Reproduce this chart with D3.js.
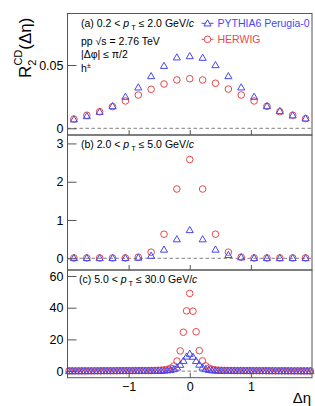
<!DOCTYPE html>
<html>
<head>
<meta charset="utf-8">
<script src="https://cdn.jsdelivr.net/npm/d3@7"></script>
<style>
  body { margin: 0; background: #fff; }
  svg { font-family: "Liberation Sans", Arial, sans-serif; }
</style>
</head>
<body>
<svg id="chart" width="315" height="406"></svg>
<script>
// bin centres, delta-eta
const etaAB = [-1.895, -1.684, -1.474, -1.263, -1.053, -0.842, -0.632, -0.421, -0.211, 0,
  0.211, 0.421, 0.632, 0.842, 1.053, 1.263, 1.474, 1.684, 1.895]

const etaC = [-1.974, -1.922, -1.870, -1.818, -1.766, -1.714, -1.662, -1.610, -1.558, -1.506,
  -1.455, -1.403, -1.351, -1.299, -1.247, -1.195, -1.143, -1.091, -1.039, -0.987,
  -0.935, -0.883, -0.831, -0.779, -0.727, -0.675, -0.623, -0.571, -0.519, -0.468,
  -0.416, -0.364, -0.312, -0.260, -0.208, -0.156, -0.104, -0.052, 0,
  0.052, 0.104, 0.156, 0.208, 0.260, 0.312, 0.364, 0.416, 0.468, 0.519,
  0.571, 0.623, 0.675, 0.727, 0.779, 0.831, 0.883, 0.935, 0.987, 1.039,
  1.091, 1.143, 1.195, 1.247, 1.299, 1.351, 1.403, 1.455, 1.506, 1.558,
  1.610, 1.662, 1.714, 1.766, 1.818, 1.870, 1.922, 1.974]

// panel (a) 0.2 < pT < 2.0
const pythiaA = [0.0071, 0.0097, 0.0131, 0.0176, 0.0250, 0.0324, 0.0413, 0.0494, 0.0561, 0.0571,
  0.0558, 0.0500, 0.0413, 0.0324, 0.0250, 0.0176, 0.0137, 0.0103, 0.0079]
const herwigA = [0.0073, 0.0103, 0.0131, 0.0171, 0.0216, 0.0263, 0.0308, 0.0350, 0.0382, 0.0392,
  0.0382, 0.0356, 0.0310, 0.0263, 0.0216, 0.0174, 0.0131, 0.0103, 0.0076]

// panel (b) 2.0 < pT < 5.0
const pythiaB = [0.01, 0.01, 0.01, 0.01, 0.01, 0.02, 0.07, 0.23, 0.50, 0.74,
  0.50, 0.23, 0.09, 0.03, 0.01, 0.01, 0.01, 0.01, 0.01]
const herwigB = [0.01, 0.01, 0.01, 0.01, 0.01, 0.03, 0.16, 0.63, 1.81, 2.58,
  1.81, 0.63, 0.16, 0.03, 0.01, 0.01, 0.01, 0.01, 0.01]

// panel (c) 5.0 < pT < 30.0
const pythiaC = [0.05, 0.06, 0.06, 0.07, 0.07, 0.08, 0.08, 0.09, 0.09, 0.1,
  0.1, 0.11, 0.11, 0.12, 0.12, 0.13, 0.14, 0.15, 0.16, 0.17,
  0.18, 0.19, 0.2, 0.21, 0.22, 0.23, 0.24, 0.26, 0.28, 0.32,
  0.4, 0.55, 0.8, 1.3, 2.3, 4.0, 6.5, 9.2, 11,
  9.1, 6.4, 4.1, 2.3, 1.3, 0.8, 0.55, 0.4, 0.32, 0.28,
  0.26, 0.24, 0.23, 0.22, 0.21, 0.2, 0.19, 0.18, 0.17, 0.16,
  0.15, 0.14, 0.13, 0.12, 0.12, 0.11, 0.11, 0.1, 0.1, 0.09,
  0.09, 0.08, 0.08, 0.07, 0.07, 0.06, 0.06, 0.05]
const herwigC = [0.09, 0.1, 0.1, 0.11, 0.12, 0.12, 0.13, 0.14, 0.15, 0.15,
  0.16, 0.17, 0.18, 0.19, 0.2, 0.21, 0.22, 0.23, 0.24, 0.25,
  0.26, 0.27, 0.28, 0.29, 0.3, 0.32, 0.35, 0.4, 0.45, 0.55,
  0.75, 1.1, 1.8, 3.2, 6.3, 12.7, 24.5, 38, 49,
  37.8, 24.8, 12.9, 6.4, 3.3, 1.9, 1.1, 0.75, 0.55, 0.45,
  0.4, 0.35, 0.32, 0.3, 0.29, 0.28, 0.27, 0.26, 0.25, 0.24,
  0.23, 0.22, 0.21, 0.2, 0.19, 0.18, 0.17, 0.16, 0.15, 0.15,
  0.14, 0.13, 0.12, 0.12, 0.11, 0.1, 0.1, 0.09]

const ticksA = [0, 0.05]
const ticksB = [0, 1, 2, 3]
const ticksC = [0, 20, 40, 60]
const xTicks = [-1, 0, 1]

const blue = "#4646f0"
const red = "#e84848"
const frameCol = "#555"

const svg = d3.select("#chart")
const x = d3.scaleLinear().domain([-2, 2]).range([67.5, 312])

const panels = [
  {id: "a", eta: etaAB, py: pythiaA, hw: herwigA, ticks: ticksA, dom: [-0.0053, 0.0907], top: 13.5, bot: 135,
    fmt: d => d === 0 ? "0" : d3.format(".2f")(d)},
  {id: "b", eta: etaAB, py: pythiaB, hw: herwigB, ticks: ticksB, dom: [-0.305, 3.22], top: 135, bot: 270,
    fmt: d3.format("d")},
  {id: "c", eta: etaC, py: pythiaC, hw: herwigC, ticks: ticksC, dom: [-4.2, 63.8], top: 270, bot: 377.7,
    fmt: d3.format("d")}
]

const tri = d3.symbol().type(d3.symbolTriangle).size(22)

panels.forEach(function(p, pi) {
  const y = d3.scaleLinear().domain(p.dom).range([p.bot, p.top])
  const g = svg.append("g")

  // zero line
  g.append("line")
    .attr("x1", x.range()[0]).attr("x2", x.range()[1])
    .attr("y1", y(0)).attr("y2", y(0))
    .attr("stroke", "#999").attr("stroke-width", 1.3)
    .attr("stroke-dasharray", "3.5,2.5")

  const pts = p.eta.map((e, i) => ({e: e, py: p.py[i], hw: p.hw[i]}))

  g.append("g").selectAll("circle")
    .data(pts)
    .join("circle")
    .attr("cx", d => x(d.e))
    .attr("cy", d => y(d.hw))
    .attr("r", 3.3)
    .attr("fill", "none")
    .attr("stroke", red)
    .attr("stroke-width", 1)

  g.append("g").selectAll("path")
    .data(pts)
    .join("path")
    .attr("d", tri)
    .attr("transform", d => "translate(" + x(d.e) + "," + (y(d.py) + 0.6) + ")")
    .attr("fill", "none")
    .attr("stroke", blue)
    .attr("stroke-width", 1)

  // y axis
  const ya = g.append("g")
    .attr("transform", "translate(" + x.range()[0] + ",0)")
    .call(d3.axisLeft(y).tickValues(p.ticks).tickFormat(p.fmt)
      .tickSizeInner(-9).tickSizeOuter(0).tickPadding(4))
  ya.select(".domain").remove()
  ya.selectAll("line").attr("stroke", frameCol)
  ya.selectAll("text").attr("font-size", "12.5px").attr("fill", "#000")
    .attr("font-family", "Liberation Sans, Arial, sans-serif")

  // x axis ticks at bottom of each panel
  const xa = g.append("g")
    .attr("transform", "translate(0," + p.bot + ")")
    .call(d3.axisBottom(x).tickValues(xTicks)
      .tickFormat(pi === 2 ? (d => d < 0 ? "\u2212" + Math.abs(d) : d) : "")
      .tickSizeInner(-5).tickSizeOuter(0).tickPadding(4))
  xa.select(".domain").remove()
  xa.selectAll("line").attr("stroke", frameCol)
  xa.selectAll("text").attr("font-size", "12.5px").attr("fill", "#000")
    .attr("font-family", "Liberation Sans, Arial, sans-serif")

  // frame
  g.append("rect")
    .attr("x", x.range()[0]).attr("y", p.top)
    .attr("width", x.range()[1] - x.range()[0]).attr("height", p.bot - p.top)
    .attr("fill", "none").attr("stroke", frameCol).attr("stroke-width", 1)
})

// panel labels
const ptLabels = [
  {txt: "(a) 0.2 < ", rest: " \u2264 2.0 GeV/", y: 27, x: 81},
  {txt: "(b) 2.0 < ", rest: " \u2264 5.0 GeV/", y: 147.5, x: 81},
  {txt: "(c) 5.0 < ", rest: " \u2264 30.0 GeV/", y: 283, x: 79}
]
ptLabels.forEach(function(l) {
  const t = svg.append("text").attr("x", l.x).attr("y", l.y).attr("font-size", "10.5px")
  t.append("tspan").text(l.txt)
  t.append("tspan").attr("font-style", "italic").text("p")
  t.append("tspan").attr("font-size", "7.5px").attr("dx", 2).attr("dy", 3).text("T")
  t.append("tspan").attr("dy", -3).text(l.rest)
  t.append("tspan").attr("font-style", "italic").text("c")
})

const info = svg.append("g").attr("font-size", "10.5px")
info.append("text").attr("x", 81).attr("y", 44.5).text("pp \u221As = 2.76 TeV")
info.append("text").attr("x", 81).attr("y", 58).text("|\u0394\u03C6| \u2264 \u03C0/2")
const h = info.append("text").attr("x", 81).attr("y", 71.5)
h.append("tspan").text("h")
h.append("tspan").attr("font-size", "7.5px").attr("dy", -4).text("\u00B1")

// legend
const legend = [
  {name: "PYTHIA6 Perugia-0", col: blue, sym: "tri", y: 23.3},
  {name: "HERWIG", col: red, sym: "circ", y: 39.3}
]
legend.forEach(function(l) {
  const lg = svg.append("g")
  lg.append("line").attr("x1", 201.5).attr("x2", 213.5).attr("y1", l.y).attr("y2", l.y)
    .attr("stroke", l.col).attr("stroke-width", 1)
  if (l.sym === "tri") {
    lg.append("path").attr("d", tri).attr("transform", "translate(207.5," + (l.y + 0.6) + ")")
      .attr("fill", "#fff").attr("stroke", l.col)
  } else {
    lg.append("circle").attr("cx", 207.5).attr("cy", l.y).attr("r", 3.3)
      .attr("fill", "#fff").attr("stroke", l.col)
  }
  lg.append("text").attr("x", 217.5).attr("y", l.y + 3.8).attr("font-size", "10.5px")
    .attr("fill", l.col).text(l.name)
})

// axis titles
const yl = svg.append("text")
  .attr("transform", "translate(31,78) rotate(-90)")
  .attr("font-size", "17px")
yl.append("tspan").text("R")
yl.append("tspan").attr("font-size", "11px").attr("dy", 5).text("2")
yl.append("tspan").attr("font-size", "11px").attr("dx", -6).attr("dy", -14).text("CD")
yl.append("tspan").attr("dy", 9).text("(\u0394\u03B7)")

svg.append("text").attr("x", 311).attr("y", 403).attr("text-anchor", "end")
  .attr("font-size", "15px").text("\u0394\u03B7")
</script>
</body>
</html>
